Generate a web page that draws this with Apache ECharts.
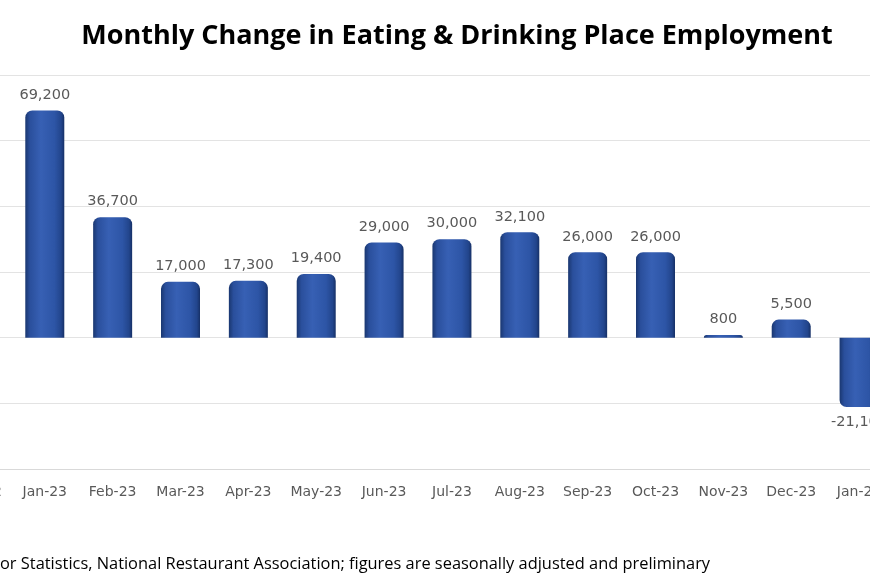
<!DOCTYPE html>
<html>
<head>
<meta charset="utf-8">
<script src="https://cdn.jsdelivr.net/npm/echarts@6/dist/echarts.min.js"></script>
<style>
html,body{margin:0;padding:0;background:#fff;overflow:hidden;width:870px;height:580px}
#c{position:absolute;left:-57px;top:0;width:950px;height:580px}
</style>
</head>
<body>
<div id="c"></div>
<script>
const categories = ['Dec-22','Jan-23','Feb-23','Mar-23','Apr-23','May-23','Jun-23','Jul-23','Aug-23','Sep-23','Oct-23','Nov-23','Dec-23','Jan-24'];
const values = [-8000, 69200, 36700, 17000, 17300, 19400, 29000, 30000, 32100, 26000, 26000, 800, 5500, -21100];
const yTicks = { min: -40000, max: 80000, interval: 20000 };
const titleText = 'Monthly Change in Eating & Drinking Place Employment';
const noteText = 'or Statistics, National Restaurant Association; figures are seasonally adjusted and preliminary';

const grad = {
  type: 'linear', x: 0, y: 0, x2: 1, y2: 0,
  colorStops: [
    { offset: 0, color: '#1a3770' },
    { offset: 0.12, color: '#2a4f9c' },
    { offset: 0.4, color: '#3760b4' },
    { offset: 0.75, color: '#2d55a6' },
    { offset: 0.92, color: '#22458c' },
    { offset: 1, color: '#163066' }
  ]
};

const data = values.map(v => ({
  value: v,
  label: { position: v < 0 ? 'bottom' : 'top' },
  itemStyle: { borderRadius: v < 0 ? [0, 0, 7, 7] : [7, 7, 0, 0] }
}));

const chart = echarts.init(document.getElementById('c'));
chart.setOption({
  backgroundColor: '#ffffff',
  animation: false,
  title: {
    text: titleText,
    left: 509, textAlign: 'center', top: 18,
    textStyle: { fontFamily: 'Open Sans', fontWeight: 'bold', fontSize: 27, color: '#000000' }
  },
  grid: { left: 0, right: 0, top: 75, bottom: 111 },
  xAxis: {
    type: 'category',
    data: categories,
    axisLine: { onZero: false, lineStyle: { color: '#d9d9d9' } },
    axisTick: { show: false },
    axisLabel: { color: '#595959', fontSize: 14, fontFamily: 'DejaVu Sans', margin: 16, interval: 0 }
  },
  yAxis: {
    type: 'value',
    min: yTicks.min, max: yTicks.max, interval: yTicks.interval,
    axisLabel: { show: false },
    axisLine: { show: false },
    axisTick: { show: false },
    splitLine: { lineStyle: { color: '#e3e3e3', width: 1 } }
  },
  series: [{
    type: 'bar',
    data: data,
    barWidth: 39,
    itemStyle: { color: grad },
    label: {
      show: true,
      color: '#595959',
      fontSize: 14.5,
      fontFamily: 'DejaVu Sans',
      distance: 8,
      formatter: p => p.value.toLocaleString('en-US')
    }
  }],
  graphic: [{
    type: 'text', left: 57, top: 556,
    style: { text: noteText, fontFamily: 'Open Sans', fontSize: 16.4, fill: '#000000' }
  }]
});
</script>
</body>
</html>
